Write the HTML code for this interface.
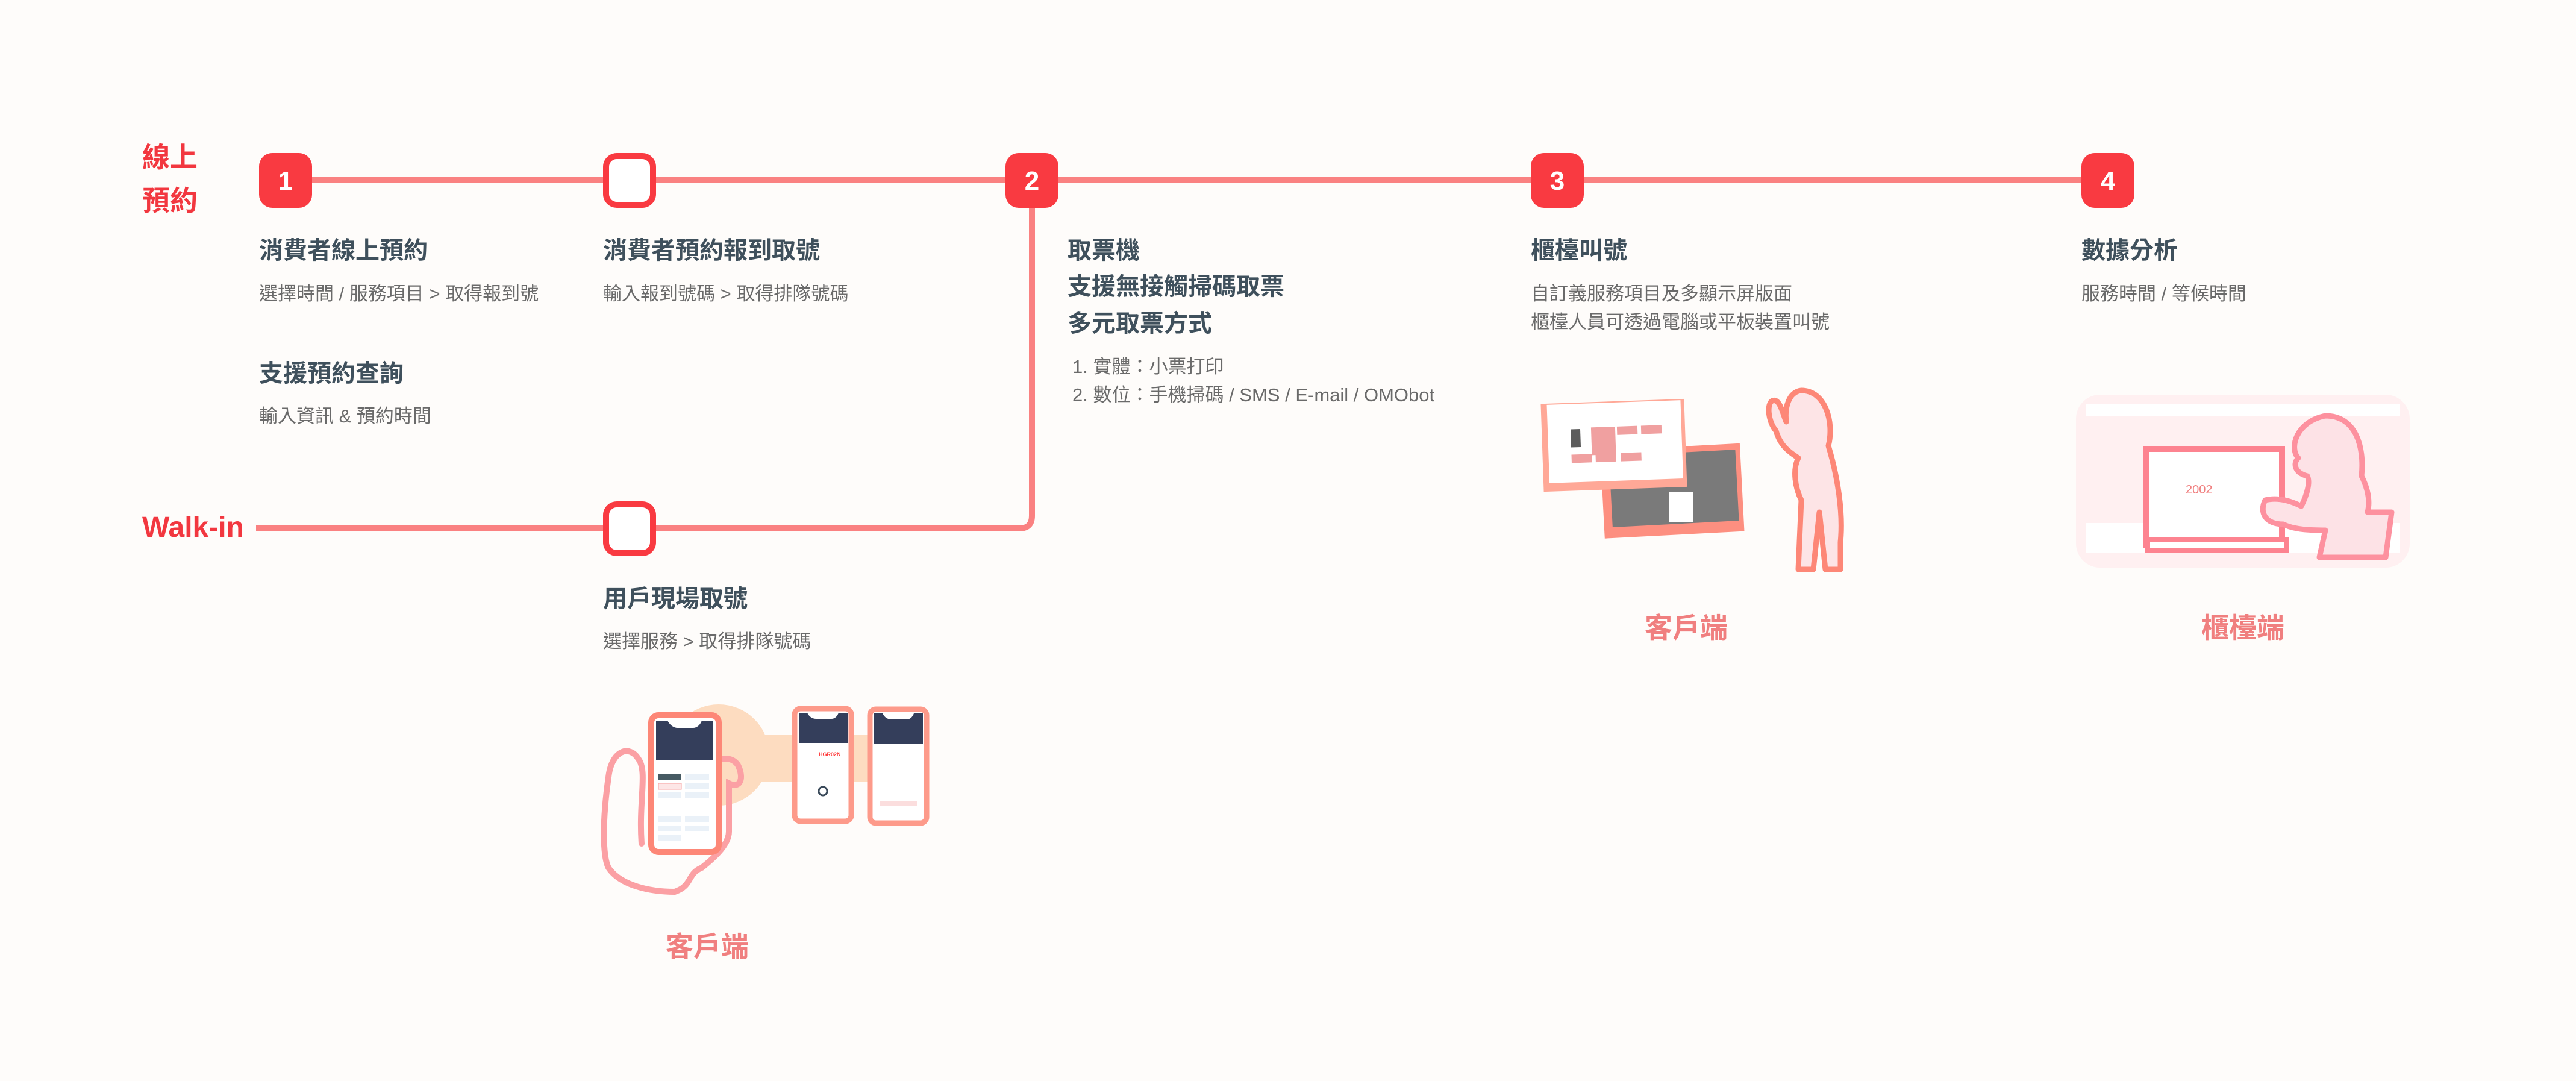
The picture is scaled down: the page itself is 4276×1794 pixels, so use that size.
<!DOCTYPE html>
<html><head><meta charset="utf-8">
<style>
html,body{margin:0;padding:0}
body{width:4276px;height:1794px;background:#fefcfa;position:relative;overflow:hidden;font-family:"Liberation Sans","Noto Sans CJK TC",sans-serif}
.t{position:absolute;white-space:nowrap;line-height:1}
.h{font-size:40px;font-weight:bold;color:#3f505c}
.s{font-size:31px;color:#6a6a6a}
.lab{font-size:46px;font-weight:bold;color:#f2373f}
.cl{font-size:46px;font-weight:bold;color:#f07f7f}
</style></head><body>
<svg width="4276" height="1794" style="position:absolute;left:0;top:0">
<line x1="474" y1="299" x2="3500" y2="299" stroke="#fa8181" stroke-width="10"/>
<path d="M425 877 H1692 Q1713 877 1713 856 V300" fill="none" stroke="#fa8181" stroke-width="10"/>
<rect x="430" y="254" width="88" height="91" rx="22" fill="#f93a41"/>
<rect x="1006" y="259" width="78" height="81" rx="18" fill="#fff" stroke="#f93a41" stroke-width="10"/>
<rect x="1669" y="254" width="88" height="91" rx="22" fill="#f93a41"/>
<rect x="2541" y="254" width="88" height="91" rx="22" fill="#f93a41"/>
<rect x="3455" y="254" width="88" height="91" rx="22" fill="#f93a41"/>
<rect x="1006" y="837" width="78" height="81" rx="18" fill="#fff" stroke="#f93a41" stroke-width="10"/>
<g font-family="Liberation Sans,sans-serif" font-weight="bold" font-size="44" fill="#fff" text-anchor="middle">
<text x="474" y="315">1</text><text x="1713" y="315">2</text><text x="2585" y="315">3</text><text x="3499" y="315">4</text>
</g>

<circle cx="1193" cy="1253" r="84" fill="#fddcc0"/>
<rect x="1195" y="1220" width="250" height="77" fill="#fddcc0"/>
<path d="M1065 1400 C1060 1330 1075 1280 1060 1260 C1045 1235 1015 1245 1010 1290 C1000 1360 1000 1420 1010 1440 C1030 1470 1080 1480 1120 1480 C1150 1470 1140 1450 1165 1440 C1190 1420 1210 1400 1210 1380 L1210 1300 C1230 1310 1235 1290 1225 1270 C1215 1255 1200 1260 1195 1260" fill="none" stroke="#fba0a4" stroke-width="10" stroke-linecap="round"/>
<rect x="1081" y="1187" width="112" height="227" rx="12" fill="#fff" stroke="#fd8777" stroke-width="10"/>
<path d="M1089 1196 H1108 Q1115 1208 1125 1208 H1150 Q1160 1208 1165 1196 H1184 V1262 H1089Z" fill="#343e5b"/>
<rect x="1093" y="1285" width="38" height="10" fill="#465a63"/><rect x="1137" y="1285" width="40" height="10" fill="#eaf1f8"/>
<rect x="1093" y="1300" width="38" height="10" fill="#fde6e6" stroke="#f7a0a0"/><rect x="1137" y="1300" width="40" height="10" fill="#eaf1f8"/>
<rect x="1093" y="1315" width="38" height="10" fill="#eaf1f8"/><rect x="1137" y="1315" width="40" height="10" fill="#eaf1f8"/>
<rect x="1093" y="1355" width="38" height="9" fill="#eaf1f8"/><rect x="1137" y="1355" width="40" height="9" fill="#eaf1f8"/>
<rect x="1093" y="1370" width="38" height="9" fill="#eaf1f8"/><rect x="1137" y="1370" width="40" height="9" fill="#eaf1f8"/>
<rect x="1093" y="1386" width="38" height="9" fill="#eaf1f8"/>
<rect x="1319" y="1176" width="94" height="187" rx="10" fill="#fff" stroke="#fd9a8a" stroke-width="9"/>
<path d="M1326 1183 H1340 Q1345 1193 1355 1193 H1380 Q1388 1193 1392 1183 H1407 V1233 H1326Z" fill="#343e5b"/>
<text x="1359" y="1255" font-size="9" font-weight="bold" fill="#f33" font-family="Liberation Sans">HGR02N</text>
<circle cx="1366" cy="1313" r="7" fill="none" stroke="#3a4a5a" stroke-width="3"/>
<rect x="1444" y="1177" width="94" height="189" rx="10" fill="#fff" stroke="#fd9a8a" stroke-width="9"/>
<path d="M1451 1184 H1465 Q1470 1194 1480 1194 H1505 Q1513 1194 1517 1184 H1532 V1234 H1451Z" fill="#343e5b"/>
<rect x="1460" y="1330" width="62" height="8" fill="#fbdede"/>

<g transform="rotate(-3 2770 780)">
<rect x="2658" y="742" width="232" height="146" fill="#fd8f80"/>
<rect x="2672" y="752" width="210" height="118" fill="#7a7a7a"/>
</g>
<g transform="rotate(-2 2680 740)">
<rect x="2560" y="666" width="238" height="146" fill="#ffa897"/>
<rect x="2570" y="668" width="222" height="130" fill="#fff"/>
<rect x="2608" y="710" width="16" height="30" fill="#333" opacity=".8"/>
<rect x="2642" y="708" width="40" height="46" fill="#f0a0a0"/>
<rect x="2685" y="708" width="34" height="14" fill="#f0a0a0"/><rect x="2725" y="708" width="34" height="14" fill="#f0a0a0"/>
<rect x="2608" y="752" width="34" height="14" fill="#f0a0a0"/><rect x="2648" y="752" width="34" height="14" fill="#f0a0a0"/><rect x="2690" y="752" width="34" height="14" fill="#f0a0a0"/>
</g>
<rect x="2770" y="816" width="40" height="50" fill="#fff"/>
<path d="M2990 648 C3030 648 3045 700 3035 740 C3050 790 3060 850 3055 900 L3055 945 L3030 945 L3020 850 L3010 945 L2985 945 L2990 830 C2980 810 2975 780 2985 760 C2970 750 2955 740 2948 715 C2935 700 2932 670 2942 665 C2955 660 2960 690 2965 700 C2962 675 2970 650 2990 648Z" fill="#fde4e6" stroke="#fd8777" stroke-width="9" stroke-linejoin="round"/>

<rect x="3446" y="655" width="554" height="287" rx="40" fill="#fff0f1"/>
<rect x="3462" y="670" width="522" height="20" fill="#fff"/>
<rect x="3462" y="868" width="522" height="50" fill="#fff"/>
<rect x="3562" y="745" width="226" height="160" fill="#fff" stroke="#fd8390" stroke-width="10"/>
<rect x="3565" y="895" width="230" height="18" fill="#fff" stroke="#fd8390" stroke-width="8"/>
<text x="3628" y="819" font-size="20" fill="#f07f7f" font-family="Liberation Sans">2002</text>
<path d="M3860 690 C3910 690 3925 740 3920 790 C3930 810 3935 830 3930 850 L3970 850 L3960 925 L3850 925 L3860 880 C3840 880 3810 880 3790 870 C3760 870 3750 850 3760 830 C3780 825 3800 830 3820 840 C3830 820 3835 800 3830 790 C3810 785 3805 770 3815 760 C3800 745 3810 700 3860 690Z" fill="#fde2e6" stroke="#fd919f" stroke-width="9" stroke-linejoin="round"/>
</svg>

<div class="t lab" style="left:236px;top:238px">線上</div>
<div class="t lab" style="left:236px;top:310px">預約</div>
<div class="t lab" style="left:236px;top:852px;font-size:48px">Walk-in</div>

<div class="t h" style="left:430px;top:396px">消費者線上預約</div>
<div class="t s" style="left:430px;top:472px">選擇時間 / 服務項目 &gt; 取得報到號</div>
<div class="t h" style="left:430px;top:600px">支援預約查詢</div>
<div class="t s" style="left:430px;top:675px">輸入資訊 &amp; 預約時間</div>

<div class="t h" style="left:1001px;top:396px">消費者預約報到取號</div>
<div class="t s" style="left:1001px;top:472px">輸入報到號碼 &gt; 取得排隊號碼</div>

<div class="t h" style="left:1772px;top:396px">取票機</div>
<div class="t h" style="left:1772px;top:456px">支援無接觸掃碼取票</div>
<div class="t h" style="left:1772px;top:517px">多元取票方式</div>
<div class="t s" style="left:1780px;top:593px">1. 實體：小票打印</div>
<div class="t s" style="left:1780px;top:640px">2. 數位：手機掃碼 / SMS / E-mail / OMObot</div>

<div class="t h" style="left:2541px;top:396px">櫃檯叫號</div>
<div class="t s" style="left:2541px;top:472px">自訂義服務項目及多顯示屏版面</div>
<div class="t s" style="left:2541px;top:519px">櫃檯人員可透過電腦或平板裝置叫號</div>

<div class="t h" style="left:3455px;top:396px">數據分析</div>
<div class="t s" style="left:3455px;top:472px">服務時間 / 等候時間</div>

<div class="t h" style="left:1001px;top:974px">用戶現場取號</div>
<div class="t s" style="left:1001px;top:1049px">選擇服務 &gt; 取得排隊號碼</div>

<div class="t cl" style="left:1105px;top:1548px">客戶端</div>
<div class="t cl" style="left:2730px;top:1019px">客戶端</div>
<div class="t cl" style="left:3654px;top:1019px">櫃檯端</div>
</body></html>
